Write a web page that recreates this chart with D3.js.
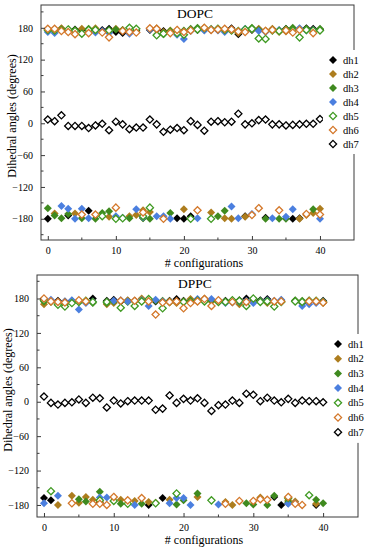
<!DOCTYPE html>
<html>
<head>
<meta charset="utf-8">
<script src="https://cdn.jsdelivr.net/npm/d3@7"></script>
<style>
    body { margin: 0; background: #fff; }
    svg { display: block; }
    text { font-family: "Liberation Serif", "DejaVu Serif", serif; fill: #000; }
</style>
</head>
<body>
<svg id="chart" width="367" height="550"></svg>
<script>
// 横轴: 构型编号
const configs = [0, 1, 2, 3, 4, 5, 6, 7, 8, 9, 10, 11, 12, 13, 14, 15, 16, 17, 18, 19, 20,
    21, 22, 23, 24, 25, 26, 27, 28, 29, 30, 31, 32, 33, 34, 35, 36, 37, 38, 39, 40];
const seriesNames = ['dh1', 'dh2', 'dh3', 'dh4', 'dh5', 'dh6', 'dh7'];
const xTicks = [0, 10, 20, 30, 40];
const xMinorTicks = [5, 15, 25, 35];
const yTicks = [-180, -120, -60, 0, 60, 120, 180];
const yMinorTicks = [-210, -150, -90, -30, 30, 90, 150, 210];

// DOPC 二面角 (degrees)
const dopc_dh1 = [-180, 176, 178, -174, 177, 176, -165, 177, 176, 178, 172, 170, 172, 175, -178, 176, 177, 174, 171, -179, -180,
    -175, 176, 177, 176, 178, 177, 179, 168, -175, 176, 177, -178, 176, 175, 178, -180, -179, 179, 178, 177];
const dopc_dh2 = [177, -170, 179, 176, -170, 178, 172, 179, 172, -176, 178, 176, -175, -173, -164, -167, 179, 172, 175, 172, -162,
    176, 178, 176, -168, 177, -179, -180, 170, -176, 177, 178, 175, 178, 172, 173, 177, -180, -173, -169, -161];
const dopc_dh3 = [-160, -174, -179, -171, 176, -179, 178, -180, -169, -166, 177, 176, -179, 174, -179, -180, 167, 168, -169, 174, 175,
    178, 180, 178, 178, -175, -165, 176, 172, 174, 180, 176, -180, 177, -180, -180, 180, 178, 178, -162, 178];
const dopc_dh4 = [172, 170, -156, -161, -180, -161, -179, 171, 174, 170, -175, -178, 169, -162, -177, 177, -175, -175, -180, 167, 159,
    174, -179, 175, 177, 175, 172, -157, -179, 178, -171, 174, 172, -179, 176, -176, -162, 179, 175, 176, -180];
const dopc_dh5 = [176, 175, 176, 177, 174, 169, 176, 176, -175, 175, -180, -179, 180, 178, -175, -159, 166, 169, 173, 170, 167,
    -180, 177, 179, -180, 178, 176, 175, 174, 177, 178, 160, 159, 175, 174, 177, 175, 162, 176, 175, 175];
const dopc_dh6 = [178, 178, 174, 172, 168, -172, 170, -172, 171, 162, -159, 174, 172, 171, -168, 179, 178, -180, 170, 176, 172,
    175, -164, 180, 176, 177, 178, 177, 173, 172, -173, -160, 174, 176, -164, 175, 171, 176, -171, 170, -172];
const dopc_dh7 = [7, 4, 15, -5, -5, -5, -9, -4, -1, -13, 3, -2, -11, -8, -8, 7, -2, -16, -12, -9, -13,
    4, -3, -14, 3, 4, 2, 3, 18, -2, 0, 6, 7, -2, -2, -4, -3, -2, -1, -1, 8];

// DPPC 二面角 (degrees)
const dppc_dh1 = [-168, -172, 176, 175, 176, 175, 174, 180, -176, 176, 178, 175, 176, 176, 176, -180, 175, -168, 176, 179, 176,
    175, 178, 177, 176, 175, 176, 176, 177, 180, 176, 177, 179, -166, -180, -177, 176, 172, 176, -180, 176];
const dppc_dh2 = [170, 176, -180, 172, -164, -176, -166, -171, -174, 170, 172, -171, 177, -173, 180, -175, -176, 174, -171, 172, 175,
    179, -166, 180, 175, 175, -175, -180, 170, 175, 175, -167, 172, 174, 177, -172, -174, 175, 176, -178, 172];
const dppc_dh3 = [175, 174, 172, 170, 175, -170, -174, 172, -157, 172, 175, -178, 174, 175, -178, 176, 176, 176, 175, -179, -172,
    176, -160, 176, 177, 176, 175, 175, 174, -177, -179, 176, -180, -164, 176, -175, 177, 176, 177, -171, -177];
const dppc_dh4 = [-177, 178, -164, 175, 177, 161, 172, 175, -167, -167, 176, 177, 175, -180, 177, 167, 178, 175, -177, -168, -168,
    -180, 179, 178, 179, -179, 172, 173, 175, 176, 172, 175, 177, 176, 178, -178, -177, 167, 170, 172, 175];
const dppc_dh5 = [177, -156, 169, 166, 172, 174, 176, 174, -172, 174, -173, 164, -178, 167, 175, 179, -177, 163, 174, -160, 174,
    174, 176, 175, -172, 174, 174, 177, 176, 167, 180, 174, 175, 166, 174, -168, 175, 174, -163, 176, 174];
const dppc_dh6 = [180, 175, 174, 173, -177, 177, 175, -178, -178, -180, -166, 176, -172, 176, -168, 175, 152, 173, 174, 175, 163,
    172, 175, 179, 167, 177, -178, 174, -173, 174, -173, -170, -171, 175, 175, -166, -178, -180, 175, 175, 173];
const dppc_dh7 = [9, -2, -5, -2, -1, 4, -2, 7, 6, -10, 2, -3, 1, 2, 2, 2, -14, -12, 11, -2, 5,
    2, 6, -2, -16, -6, -5, 2, -2, 14, 12, 1, 7, 2, -1, 5, -2, 2, 1, 1, -1];

// 每个系列的 颜色 和 是否 空心
let seriesColor = ['#000000', '#ad7d1e', '#3f8a1f', '#4b7fdf', '#3f9a22', '#d4782b', '#000000'];
let seriesOpen = [false, false, false, false, true, true, true];

let svg = d3.select('#chart');

function drawPanel(opt) {
    let g = svg.append('g');
    // 比例尺
    let xScale = d3.scaleLinear().domain([-1, 45]).range([opt.left, opt.right]);
    let yScale = d3.scaleLinear().domain(opt.yDomain).range([opt.bottom, opt.top]);

    // 数据点
    let diamond = 'M0,-4L4,0L0,4L-4,0Z';
    let openDiamond = 'M0,-3.6L3.6,0L0,3.6L-3.6,0Z';
    opt.data.forEach(function (values, k) {
        g.append('g')
            .selectAll('path')
            .data(values)
            .enter()
            .append('path')
            .attr('d', seriesOpen[k] ? openDiamond : diamond)
            .attr('transform', function (d, i) {
                return 'translate(' + xScale(configs[i]) + ',' + yScale(d) + ')';
            })
            .attr('fill', seriesOpen[k] ? '#fff' : seriesColor[k])
            .attr('stroke', seriesOpen[k] ? seriesColor[k] : 'none')
            .attr('stroke-width', 1.3);
    });

    // 外框
    g.append('rect')
        .attr('x', opt.left).attr('y', opt.top)
        .attr('width', opt.right - opt.left).attr('height', opt.bottom - opt.top)
        .attr('fill', 'none').attr('stroke', '#3a3a3a').attr('stroke-width', 1);

    // 坐标轴 (刻度朝内)
    let xAxis = d3.axisBottom(xScale).tickValues(xTicks).tickSize(-4).tickPadding(7).tickFormat(d3.format('d'));
    let gx = g.append('g').attr('transform', 'translate(0,' + opt.bottom + ')').call(xAxis);
    let yAxis = d3.axisLeft(yScale).tickValues(yTicks).tickSize(-4).tickPadding(8)
        .tickFormat(function (d) { return d < 0 ? '\u2212' + Math.abs(d) : d; });
    let gy = g.append('g').attr('transform', 'translate(' + opt.left + ',0)').call(yAxis);
    [gx, gy].forEach(function (a) {
        a.select('.domain').remove();
        a.selectAll('line').attr('stroke', '#3a3a3a');
        a.selectAll('text').style('font-family', '"Liberation Serif", serif').style('font-size', '10px').attr('fill', '#000');
    });
    // 小刻度
    g.selectAll('.xminor').data(xMinorTicks).enter().append('line')
        .attr('x1', d => xScale(d)).attr('x2', d => xScale(d))
        .attr('y1', opt.bottom).attr('y2', opt.bottom - 2.5)
        .attr('stroke', '#3a3a3a');
    g.selectAll('.yminor').data(yMinorTicks.filter(d => yScale(d) > opt.top && yScale(d) < opt.bottom)).enter().append('line')
        .attr('x1', opt.left).attr('x2', opt.left + 2.5)
        .attr('y1', d => yScale(d)).attr('y2', d => yScale(d))
        .attr('stroke', '#3a3a3a');

    // 标题
    g.append('text')
        .attr('x', 195).attr('y', opt.top + 13)
        .attr('text-anchor', 'middle')
        .style('font-size', '13.5px')
        .text(opt.title);
    // 轴标题
    g.append('text')
        .attr('x', 204).attr('y', opt.bottom + 27)
        .attr('text-anchor', 'middle')
        .style('font-size', '12px')
        .text('# configurations');
    g.append('text')
        .attr('transform', 'translate(' + opt.yLabelX + ',' + opt.yLabelY + ') rotate(-90)')
        .attr('text-anchor', 'middle')
        .style('font-size', '12px')
        .text('Dihedral angles (degrees)');

    // 图例 (白底 盖住右边框)
    let lg = g.append('g');
    lg.append('rect')
        .attr('x', opt.legendX - 10).attr('y', opt.legendY - 10)
        .attr('width', 367 - opt.legendX + 10).attr('height', opt.legendStep * 7 + 6)
        .attr('fill', '#fff');
    seriesNames.forEach(function (name, k) {
        let y = opt.legendY + k * opt.legendStep;
        lg.append('path')
            .attr('d', seriesOpen[k] ? openDiamond : diamond)
            .attr('transform', 'translate(' + opt.legendX + ',' + y + ')')
            .attr('fill', seriesOpen[k] ? '#fff' : seriesColor[k])
            .attr('stroke', seriesOpen[k] ? seriesColor[k] : 'none')
            .attr('stroke-width', 1.3);
        lg.append('text')
            .attr('x', opt.legendX + 10).attr('y', y + 3.5)
            .style('font-size', '10.5px')
            .text(name);
    });
}

drawPanel({
    title: 'DOPC',
    left: 41, right: 354, top: 5, bottom: 240,
    yDomain: [-220, 223],
    data: [dopc_dh1, dopc_dh2, dopc_dh3, dopc_dh4, dopc_dh5, dopc_dh6, dopc_dh7],
    yLabelX: 16, yLabelY: 116,
    legendX: 333, legendY: 60, legendStep: 14
});

drawPanel({
    title: 'DPPC',
    left: 37, right: 358, top: 275, bottom: 517,
    yDomain: [-201, 221],
    data: [dppc_dh1, dppc_dh2, dppc_dh3, dppc_dh4, dppc_dh5, dppc_dh6, dppc_dh7],
    yLabelX: 12, yLabelY: 390,
    legendX: 338, legendY: 344, legendStep: 14.7
});
</script>
</body>
</html>
